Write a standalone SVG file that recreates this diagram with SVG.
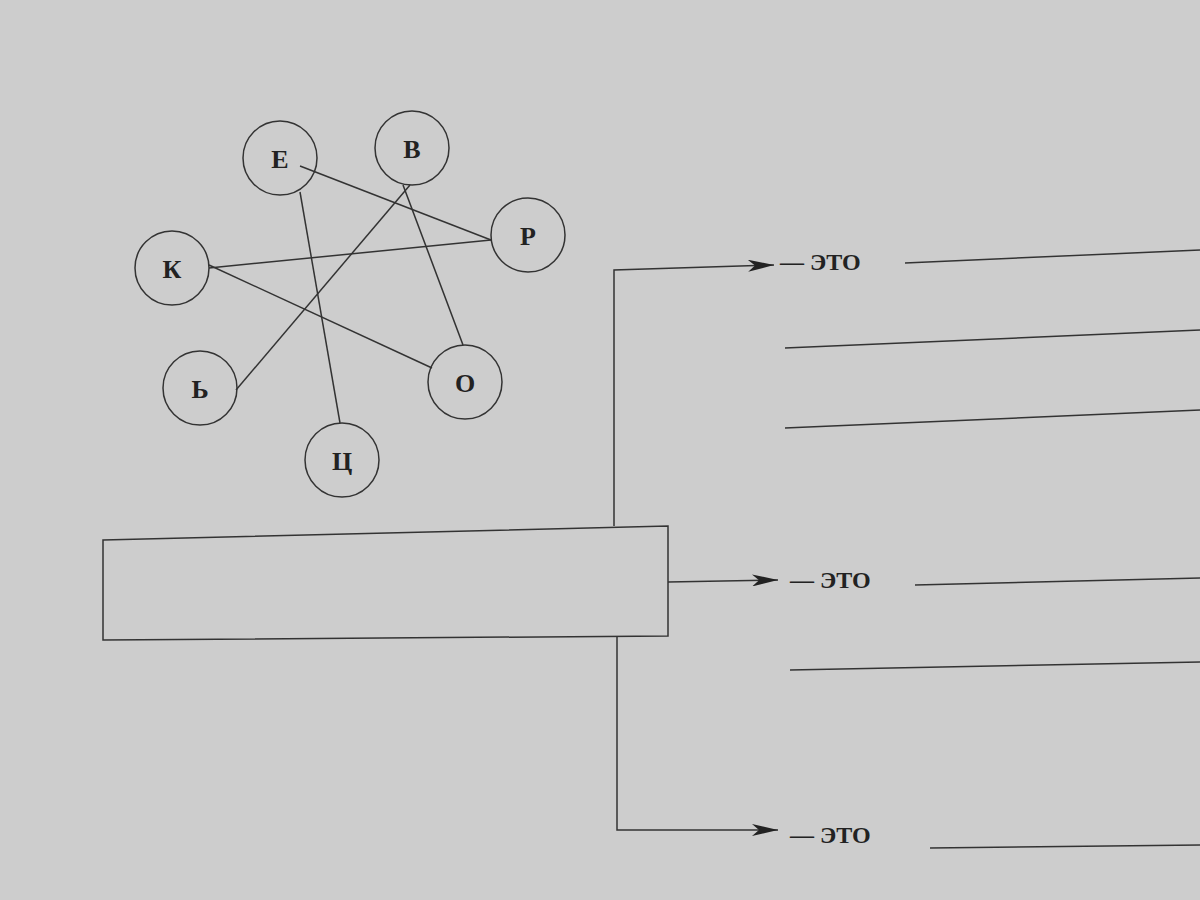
<svg xmlns="http://www.w3.org/2000/svg" width="1200" height="900" viewBox="0 0 1200 900">
<style>
.n circle{fill:none;stroke:#333;stroke-width:1.5}
.n text{font-family:"Liberation Serif",serif;font-weight:bold;font-size:26px;fill:#222;text-anchor:middle}
.c line,.c polyline{stroke:#333;stroke-width:1.5;fill:none}
.t{font-family:"Liberation Serif",serif;font-weight:bold;font-size:24px;fill:#222}
</style>
<defs><marker id="a" markerWidth="26" markerHeight="12" refX="26" refY="6" orient="auto" markerUnits="userSpaceOnUse"><path d="M0,0L26,6L0,12L7,6z" fill="#222"/></marker></defs>
<rect width="1200" height="900" fill="#cdcdcd"/>
<g class="c">
<line x1="300" y1="166" x2="491" y2="240"/>
<line x1="300" y1="192" x2="340" y2="423"/>
<line x1="410" y1="185" x2="236" y2="390"/>
<line x1="403" y1="185" x2="463" y2="345"/>
<line x1="209" y1="268" x2="491" y2="240"/>
<line x1="209" y1="265" x2="432" y2="368"/>
<polyline points="614,526 614,270 774,265" marker-end="url(#a)"/>
<line x1="668" y1="582" x2="778" y2="580" marker-end="url(#a)"/>
<polyline points="617,636 617,830 778,830" marker-end="url(#a)"/>
<line x1="905" y1="263" x2="1200" y2="250"/>
<line x1="785" y1="348" x2="1200" y2="330"/>
<line x1="785" y1="428" x2="1200" y2="410"/>
<line x1="915" y1="585" x2="1200" y2="578"/>
<line x1="790" y1="670" x2="1200" y2="662"/>
<line x1="930" y1="848" x2="1200" y2="845"/>
</g>
<g id="box"><polygon points="103,540 668,526 668,636 103,640" fill="none" stroke="#333" stroke-width="1.5"/></g>
<g id="nE" class="n"><circle cx="280" cy="158" r="37"/><text x="280" y="168">Е</text></g>
<g id="nV" class="n"><circle cx="412" cy="148" r="37"/><text x="412" y="158">В</text></g>
<g id="nR" class="n"><circle cx="528" cy="235" r="37"/><text x="528" y="245">Р</text></g>
<g id="nK" class="n"><circle cx="172" cy="268" r="37"/><text x="172" y="278">К</text></g>
<g id="nMz" class="n"><circle cx="200" cy="388" r="37"/><text x="200" y="398">Ь</text></g>
<g id="nO" class="n"><circle cx="465" cy="382" r="37"/><text x="465" y="392">О</text></g>
<g id="nC" class="n"><circle cx="342" cy="460" r="37"/><text x="342" y="470">Ц</text></g>
<text class="t" x="780" y="270">— ЭТО</text>
<text class="t" x="790" y="588">— ЭТО</text>
<text class="t" x="790" y="843">— ЭТО</text>
</svg>
